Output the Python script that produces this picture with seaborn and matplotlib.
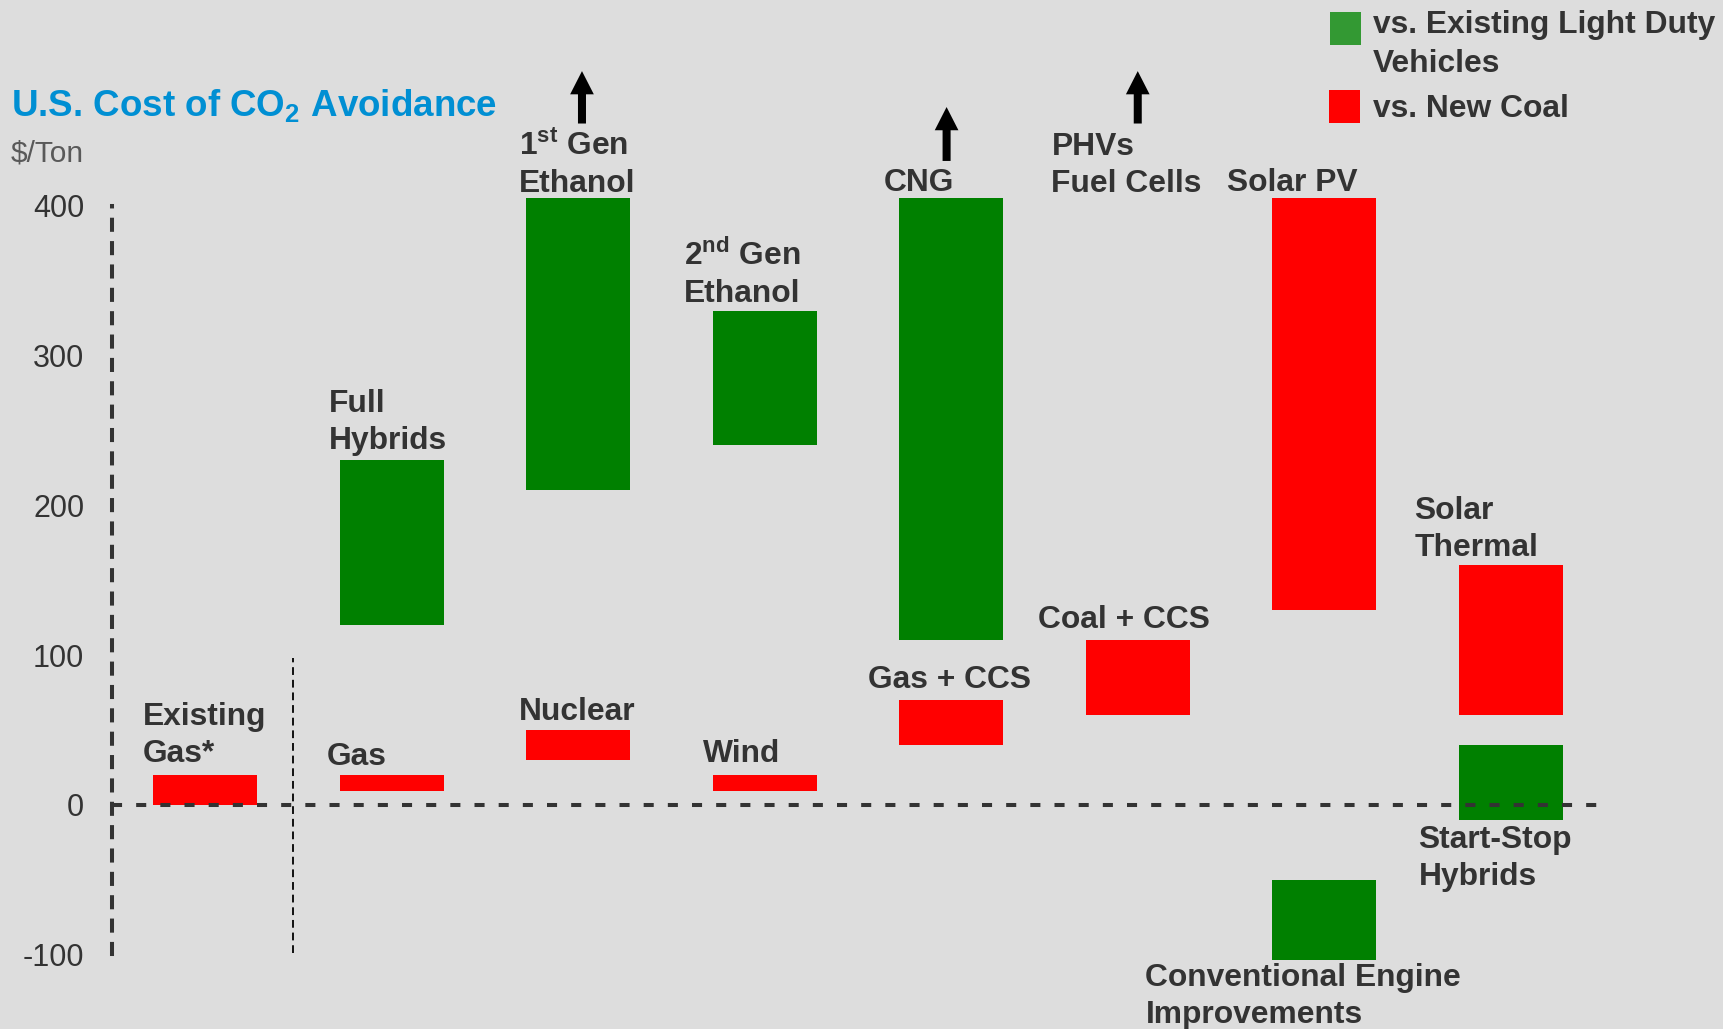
import matplotlib
matplotlib.use("Agg")
import matplotlib.pyplot as plt
from matplotlib.patches import Rectangle
import pandas as pd
import seaborn as sns

# ---------------------------------------------------------------- data
columns = [
    "Existing Gas*",
    "Gas / Full Hybrids",
    "Nuclear / 1st Gen Ethanol",
    "Wind / 2nd Gen Ethanol",
    "Gas + CCS / CNG",
    "Coal + CCS / PHVs, Fuel Cells",
    "Solar PV / Conventional Engine Improvements",
    "Solar Thermal / Start-Stop Hybrids",
]

# cost ranges vs. new coal ($/ton CO2)
coal_tech = ["Existing Gas*", "Gas", "Nuclear", "Wind", "Gas + CCS",
             "Coal + CCS", "Solar PV", "Solar Thermal"]
coal_column = columns
coal_low = [0, 9, 30, 9, 40, 60, 130, 60]
coal_high = [20, 20, 50, 20, 70, 110, 405, 160]

# cost ranges vs. existing light duty vehicles ($/ton CO2)
ldv_tech = ["Full Hybrids", "1st Gen Ethanol", "2nd Gen Ethanol", "CNG",
            "Conventional Engine Improvements", "Start-Stop Hybrids"]
ldv_column = [columns[1], columns[2], columns[3], columns[4], columns[6], columns[7]]
ldv_low = [120, 210, 240, 110, -104, -10]
ldv_high = [230, 405, 330, 405, -50, 40]

# technologies whose costs run off the top of the scale
offscale_column = [columns[2], columns[4], columns[5]]

yticks = [-100, 0, 100, 200, 300, 400]
ytick_labels = ["-100", "0", "100", "200", "300", "400"]

legend_labels = [["vs. Existing Light Duty", "Vehicles"], ["vs. New Coal"]]

# ---------------------------------------------------------------- style
GREEN = "#008000"
RED = "#ff0000"
LEGEND_GREEN = "#339933"
TEXT = "#333333"
BG = "#dddddd"
TITLE_BLUE = "#008fd3"
LABEL_SIZE = 22.9

sns.set_style("white", rc={"axes.facecolor": BG, "figure.facecolor": BG})
plt.rcParams["font.family"] = ["Liberation Sans", "DejaVu Sans"]
plt.rcParams["mathtext.fontset"] = "custom"
plt.rcParams["mathtext.rm"] = "Liberation Sans"
plt.rcParams["mathtext.bf"] = "Liberation Sans:bold"

W, H = 1723, 1029
fig = plt.figure(figsize=(W / 100, H / 100), dpi=100, facecolor=BG)
ax = fig.add_axes([112 / W, 0, 1492 / W, 1])
ax.set_facecolor(BG)

coal_df = pd.DataFrame({"column": coal_column, "tech": coal_tech,
                        "low": coal_low, "high": coal_high})
coal_df["span"] = coal_df["high"] - coal_df["low"]
ldv_df = pd.DataFrame({"column": ldv_column, "tech": ldv_tech,
                       "low": ldv_low, "high": ldv_high})
ldv_df["span"] = ldv_df["high"] - ldv_df["low"]

for df, col in [(coal_df, RED), (ldv_df, GREEN)]:
    df = df.assign(pos=df["column"].map(columns.index)).sort_values("pos")
    sns.barplot(data=df, x="column", y="span", order=columns,
                bottom=df["low"].to_numpy(), color=col, saturation=1,
                width=0.56, errorbar=None, linewidth=0, ax=ax, zorder=2)

ax.set_xlim(-0.5, 7.5)
ax.set_ylim(-149.8, 537.5)
ax.set_xlabel("")
ax.set_ylabel("")
ax.tick_params(axis="x", bottom=False, labelbottom=False)
ax.set_yticks(yticks)
ax.set_yticklabels(ytick_labels)
ax.tick_params(axis="y", length=0, pad=20, labelsize=22, labelcolor=TEXT)
ax.grid(False)

for side in ["top", "right", "bottom"]:
    ax.spines[side].set_visible(False)
left = ax.spines["left"]
left.set_bounds(-100, 400)
left.set_color(TEXT)
left.set_linewidth(2.9)
left.set_linestyle((0, (2.5, 3.3)))

# zero line and separator for the existing-gas reference
ax.axhline(0, color=TEXT, lw=2.9, ls=(0, (2.5, 3.5)), zorder=3)
ax.vlines(0.471, -99, 98, colors="black", lw=1.3, linestyles=(0, (4.3, 2.7)))

# arrows for off-scale costs
arrow_layout = [(0.02, 455, 490), (-0.025, 430, 466), (0.0, 455, 490)]
for name, (dx, tail, tip) in zip(offscale_column, arrow_layout):
    x = columns.index(name) + dx
    ax.arrow(x, tail, 0, tip - tail, width=0.043, head_width=0.127,
             head_length=15.5, length_includes_head=True,
             fc="black", ec="none", zorder=4)

# bar labels: (lines, left x, first baseline)
LINE_STEP = 24.6
label_layout = [
    (["Existing", "Gas*"], -0.334, 53.2),
    (["Full", "Hybrids"], 0.664, 262.5),
    (["Gas"], 0.650, 26.5),
    ([r"1$^{\mathbf{st}}$ Gen", "Ethanol"], 1.683, 434.0),
    (["Nuclear"], 1.683, 56.6),
    ([r"2$^{\mathbf{nd}}$ Gen", "Ethanol"], 2.569, 360.5),
    (["Wind"], 2.669, 28.7),
    (["CNG"], 3.638, 410.0),
    (["Gas + CCS"], 3.551, 77.7),
    (["PHVs", "Fuel Cells"], 4.537, 434.0),
    (["Coal + CCS"], 4.466, 117.8),
    (["Solar PV"], 5.480, 410.0),
    (["Conventional Engine", "Improvements"], 5.041, -121.1),
    (["Solar", "Thermal"], 6.482, 191.0),
    (["Start-Stop", "Hybrids"], 6.505, -29.1),
]
for lines, x, y0 in label_layout:
    for i, line in enumerate(lines):
        ax.text(x, y0 - i * LINE_STEP, line, fontsize=LABEL_SIZE,
                fontweight="bold", color=TEXT, ha="left", va="baseline",
                zorder=5)

# title and unit
fig.text(11 / W, 1 - 117 / H, r"U.S. Cost of CO$_{\mathbf{2}}$ Avoidance",
         fontsize=26.5, fontweight="bold", color=TITLE_BLUE,
         ha="left", va="baseline")
fig.text(11 / W, 1 - 162 / H, "$/Ton", fontsize=21.5, color="#595959",
         ha="left", va="baseline", parse_math=False)

# legend
legend_boxes = [((1330, 12), LEGEND_GREEN, [33, 72]), ((1329, 90), RED, [117])]
for (box, col, baselines), lines in zip(legend_boxes, legend_labels):
    fig.add_artist(Rectangle((box[0] / W, 1 - (box[1] + 33) / H), 31 / W, 33 / H,
                             transform=fig.transFigure, facecolor=col,
                             edgecolor="none"))
    for line, b in zip(lines, baselines):
        fig.text(1373 / W, 1 - b / H, line, fontsize=LABEL_SIZE,
                 fontweight="bold", color=TEXT, ha="left", va="baseline")

fig.savefig("out.png", dpi=100, facecolor=BG)
